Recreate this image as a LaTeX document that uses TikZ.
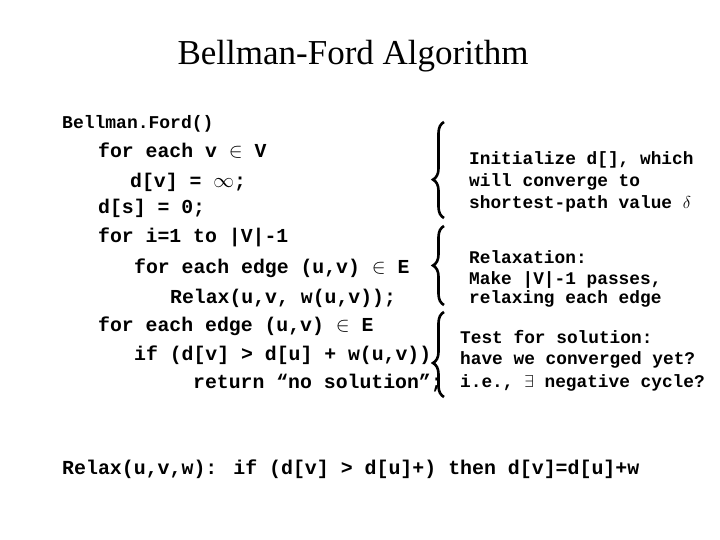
\documentclass[tikz,border=0pt]{standalone}
\usepackage{fontspec}
\setmainfont{Liberation Serif}
\newfontfamily\cmono{Liberation Mono}
\usetikzlibrary{decorations.pathreplacing}
\begin{document}
\begin{tikzpicture}[x=1pt,y=-1pt,
  code/.style={anchor=base west,inner sep=0pt,font=\cmono\bfseries\fontsize{19.8}{22}\selectfont},
  note/.style={anchor=base west,inner sep=0pt,font=\cmono\bfseries\fontsize{17.8}{20}\selectfont},
  br/.style={decorate,decoration={brace,amplitude=11pt,aspect=#1},line width=2.6pt}]
\useasboundingbox (0,0) rectangle (720,540);
\node[font=\fontsize{35}{40}\selectfont] (title) at (353,56) {Bellman-Ford Algorithm};
\node[code,font=\cmono\bfseries\fontsize{18}{20}\selectfont] (l1) at (62,129) {Bellman.Ford()};
\node[code] (l2) at (98,158) {for each v $\in$ V};
\node[code] (l3) at (130,188) {d[v] = $\infty$;};
\node[code] (l4) at (98,214) {d[s] = 0;};
\node[code] (l5) at (98,243) {for i=1 to |V|-1};
\node[code] (l6) at (134,273) {for each edge (u,v) $\in$ E};
\node[code] (l7) at (170,303) {Relax(u,v, w(u,v));};
\node[code] (l8) at (98,331) {for each edge (u,v) $\in$ E};
\node[code] (l9) at (134,360) {if (d[v] > d[u] + w(u,v))};
\node[code] (l10) at (193,388) {return “no solution”;};
\node[note] (n1) at (469,165) {Initialize d[], which};
\node[note] (n2) at (469,187) {will converge to};
\node[note] (n3) at (469,208) {shortest-path value $\delta$};
\node[note] (n4) at (469,263) {Relaxation:};
\node[note] (n5) at (469,284) {Make |V|-1 passes,};
\node[note] (n6) at (469,303) {relaxing each edge};
\node[note] (n7) at (460,343) {Test for solution:};
\node[note] (n8) at (460,364) {have we converged yet?};
\node[note] (n9) at (460,387) {i.e., $\exists$ negative cycle?};
\coordinate (b1a) at (444,122); \coordinate (b1b) at (444,218);
\coordinate (b2a) at (444,226); \coordinate (b2b) at (444,305);
\coordinate (b3a) at (444,312); \coordinate (b3b) at (444,397);
\draw[br=0.4] (b1b) -- (b1a);
\draw[br=0.5] (b2b) -- (b2a);
\draw[br=0.4] (b3b) -- (b3a);
\node[code,font=\cmono\bfseries\fontsize{19.9}{22}\selectfont] (relax) at (62,474) {Relax(u,v,w): if (d[v] > d[u]+) then d[v]=d[u]+w};
\end{tikzpicture}
\end{document}
